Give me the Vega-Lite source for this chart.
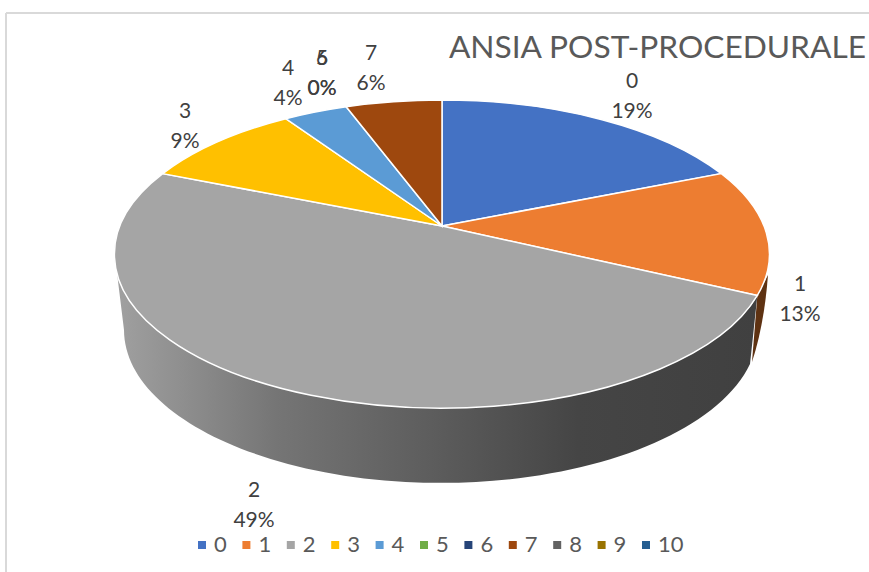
{
  "$schema": "https://vega.github.io/schema/vega-lite/v6.json",
  "width": 869,
  "height": 572,
  "autosize": {"type": "none"},
  "padding": 0,
  "background": "white",
  "view": {"stroke": null},
  "data": {"values": [
    {"cat": "0", "n": 10},
    {"cat": "1", "n": 7},
    {"cat": "2", "n": 26},
    {"cat": "3", "n": 5},
    {"cat": "4", "n": 2},
    {"cat": "5", "n": 0},
    {"cat": "6", "n": 0},
    {"cat": "7", "n": 3},
    {"cat": "8", "n": 0},
    {"cat": "9", "n": 0},
    {"cat": "10", "n": 0}
  ]},
  "transform": [
    {"joinaggregate": [{"op": "sum", "field": "n", "as": "total"}]},
    {"window": [{"op": "sum", "field": "n", "as": "cum"}]},
    {"calculate": "2*PI*(datum.cum-datum.n)/datum.total", "as": "a0"},
    {"calculate": "2*PI*datum.cum/datum.total", "as": "a1"},
    {"calculate": "round(32200*sin(datum.a0)/(1+0.1818*cos(datum.a0)))/100", "as": "x0"},
    {"calculate": "round(-14890*cos(datum.a0)/(1+0.1818*cos(datum.a0)))/100", "as": "y0"},
    {"calculate": "round(32200*sin(datum.a1)/(1+0.1818*cos(datum.a1)))/100", "as": "x1"},
    {"calculate": "round(-14890*cos(datum.a1)/(1+0.1818*cos(datum.a1)))/100", "as": "y1"},
    {"calculate": "'M0,0L'+datum.x0+','+datum.y0+'A327.5,154 0 '+(datum.n/datum.total>0.45?1:0)+' 1 '+datum.x1+','+datum.y1+'Z'", "as": "slicePath"},
    {"calculate": "datum.cat=='2' ? 'M'+datum.x0+','+datum.y0+'A327.5,154 0 0 1 -325,47L-318,104A317,153 0 0 0 308,138Z' : 'M'+datum.x1+','+datum.y1+'L326,49Q322,100 310,136Z'", "as": "wallPath"},
    {"calculate": "datum.cat+'\\n'+round(100*datum.n/datum.total)+'%'", "as": "label"},
    {"calculate": "[632,800,254,185,288,322,322,371,0,0,0][indexof(['0','1','2','3','4','5','6','7','8','9','10'],datum.cat)]", "as": "lx"},
    {"calculate": "[71,274,480,101,58,48,48,43,0,0,0][indexof(['0','1','2','3','4','5','6','7','8','9','10'],datum.cat)]", "as": "ly"}
  ],
  "layer": [
    {
      "data": {"values": [{"f": 1}]},
      "mark": {"type": "rule", "color": "#d9d9d9", "strokeWidth": 2},
      "encoding": {
        "x": {"datum": 6, "type": "quantitative", "scale": {"domain": [0, 869], "nice": false}, "axis": null},
        "y": {"datum": 13, "type": "quantitative", "scale": {"domain": [0, 572], "nice": false, "reverse": true}, "axis": null},
        "y2": {"datum": 572}
      }
    },
    {
      "data": {"values": [{"f": 1}]},
      "mark": {"type": "rule", "color": "#d9d9d9", "strokeWidth": 2},
      "encoding": {
        "x": {"datum": 6, "type": "quantitative"},
        "x2": {"datum": 869},
        "y": {"datum": 13, "type": "quantitative"}
      }
    },
    {
      "transform": [{"filter": "datum.cat=='2'"}],
      "mark": {"type": "point", "filled": true, "size": 4, "opacity": 1, "fill": {"x1": 0, "y1": 0, "x2": 1, "y2": 0, "gradient": "linear", "stops": [
        {"offset": 0, "color": "#a0a0a0"},
        {"offset": 0.25, "color": "#757575"},
        {"offset": 0.5, "color": "#5c5c5c"},
        {"offset": 0.72, "color": "#454545"},
        {"offset": 1, "color": "#404040"}
      ]}},
      "encoding": {
        "x": {"datum": 442, "type": "quantitative"},
        "y": {"datum": 226, "type": "quantitative"},
        "shape": {"field": "wallPath", "type": "nominal", "scale": null, "legend": null}
      }
    },
    {
      "transform": [{"filter": "datum.cat=='1'"}],
      "mark": {"type": "point", "filled": true, "size": 4, "opacity": 1, "fill": "#5e3212"},
      "encoding": {
        "x": {"datum": 442, "type": "quantitative"},
        "y": {"datum": 226, "type": "quantitative"},
        "shape": {"field": "wallPath", "type": "nominal", "scale": null, "legend": null}
      }
    },
    {
      "mark": {"type": "point", "filled": true, "size": 4, "opacity": 1, "stroke": "white", "strokeWidth": 1.5},
      "encoding": {
        "x": {"datum": 442, "type": "quantitative"},
        "y": {"datum": 226, "type": "quantitative"},
        "shape": {"condition": {"test": "datum.n>0", "field": "slicePath", "type": "nominal", "scale": null, "legend": null}, "value": "M0,0Z"},
        "color": {
          "field": "cat",
          "type": "nominal",
          "scale": {
            "domain": ["0","1","2","3","4","5","6","7","8","9","10"],
            "range": ["#4472c4","#ed7d31","#a5a5a5","#ffc000","#5b9bd5","#70ad47","#264478","#9e480e","#636363","#997300","#255e91"]
          },
          "legend": {
            "orient": "none", "legendX": 191, "legendY": 534, "direction": "horizontal", "columns": 11,
            "title": null, "symbolType": "square", "symbolSize": 64, "symbolStrokeWidth": 0,
            "labelFont": "Lato", "labelFontSize": 22, "labelColor": "#595959", "labelOffset": 1,
            "columnPadding": 8.4, "rowPadding": 0, "gridAlign": "none"
          }
        }
      }
    },
    {
      "transform": [{"filter": "datum.n>0 || datum.cat=='5' || datum.cat=='6'"}],
      "mark": {"type": "text", "font": "Lato", "fontSize": 21, "color": "#404040", "align": "center", "baseline": "top", "lineBreak": "\n", "lineHeight": 30},
      "encoding": {
        "x": {"field": "lx", "type": "quantitative"},
        "y": {"field": "ly", "type": "quantitative"},
        "text": {"field": "label", "type": "nominal"}
      }
    },
    {
      "data": {"values": [{"t": "ANSIA POST-PROCEDURALE"}]},
      "mark": {"type": "text", "font": "Lato", "fontSize": 31.7, "color": "#595959", "align": "right", "baseline": "middle"},
      "encoding": {
        "x": {"datum": 866, "type": "quantitative"},
        "y": {"datum": 48, "type": "quantitative"},
        "text": {"field": "t", "type": "nominal"}
      }
    }
  ]
}
